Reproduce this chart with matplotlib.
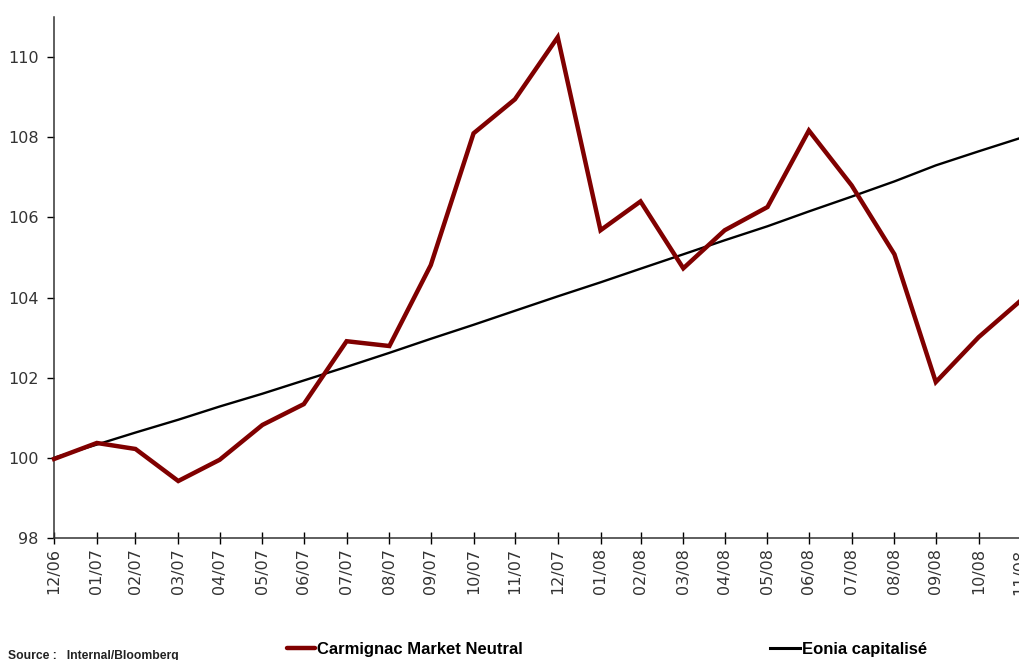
import matplotlib
matplotlib.use("Agg")
import matplotlib.pyplot as plt
import pandas as pd

plt.rcParams["font.family"] = ["DejaVu Sans"]

dates = pd.date_range("2006-12-31", periods=24, freq="ME")
tick_labels = ["12/06", "01/07", "02/07", "03/07", "04/07", "05/07", "06/07", "07/07",
               "08/07", "09/07", "10/07", "11/07", "12/07", "01/08", "02/08", "03/08",
               "04/08", "05/08", "06/08", "07/08", "08/08", "09/08", "10/08", "11/08"]
carmignac = [99.97, 100.37, 100.22, 99.42, 99.95, 100.82, 101.34, 102.91, 102.79, 104.81,
             108.10, 108.95, 110.50, 105.68, 106.40, 104.73, 105.68, 106.26, 108.17, 106.80,
             105.08, 101.89, 103.01, 103.91]
eonia = [100.00, 100.33, 100.63, 100.95, 101.28, 101.60, 101.93, 102.27, 102.62, 102.97,
         103.32, 103.67, 104.03, 104.38, 104.72, 105.08, 105.43, 105.78, 106.15, 106.52,
         106.90, 107.30, 107.65, 107.98]

fig = plt.figure(figsize=(10.2, 6.6), dpi=100)
ax = fig.add_axes([0.053, 0.185, 0.947, 0.789])

ax.plot(dates, carmignac, color="#800000", lw=3.2, solid_joinstyle="miter", zorder=3,
        clip_on=False)
ax.plot(dates, eonia, color="black", lw=1.7, zorder=2, clip_on=False)

ax.set_xlim(dates[0], dates[-1])
ax.set_ylim(98, 111)
ax.set_yticks(range(98, 111, 2))
ax.set_xticks(dates)
ax.set_xticklabels(tick_labels, rotation=90, fontsize=11.5, color="#333333")
ax.tick_params(axis="x", direction="inout", length=9, width=1, pad=3)
ax.tick_params(axis="y", direction="out", length=5, width=1, pad=6, labelsize=11.5,
               labelcolor="#333333")

for s in ["top", "right"]:
    ax.spines[s].set_visible(False)
for s in ["left", "bottom"]:
    ax.spines[s].set_color("#333333")
    ax.spines[s].set_linewidth(1.1)

# Legend (manual, as in reference)
fig.lines.append(plt.Line2D([0.281, 0.309], [0.018, 0.018], transform=fig.transFigure,
                            color="#800000", lw=3.2, solid_capstyle="round"))
fig.text(0.311, 0.016, "Carmignac Market Neutral", fontsize=12, fontweight="bold",
         family=["Liberation Sans Narrow", "Liberation Sans", "DejaVu Sans"], va="center")
fig.lines.append(plt.Line2D([0.755, 0.784], [0.018, 0.018], transform=fig.transFigure,
                            color="black", lw=2.2))
fig.text(0.786, 0.016, "Eonia capitalisé", fontsize=12, fontweight="bold",
         family=["Liberation Sans Narrow", "Liberation Sans", "DejaVu Sans"], va="center")

fig.text(0.008, 0.006, "Source :   Internal/Bloomberg", fontsize=8.7, fontweight="bold",
         family=["Liberation Sans", "DejaVu Sans"], va="center", color="#222222")

fig.savefig("out.png", dpi=100)
